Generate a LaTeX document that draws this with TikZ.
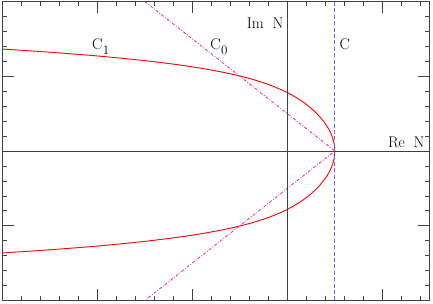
\documentclass[tikz,border=0pt]{standalone}
\begin{document}
\begin{tikzpicture}[x=95pt,y=74.75pt,
  framestyle/.style={black!75,line width=0.7pt},
  tickstyle/.style={black!75,line width=0.6pt},
  curvestyle/.style={red,line width=0.9pt},
  rayline/.style={magenta!85,line width=0.8pt,dash pattern=on 3pt off 1.6pt on 0.8pt off 1.6pt},
  mellin/.style={blue!60,line width=1pt,dash pattern=on 4pt off 2.4pt},
  lab/.style={inner sep=0pt,font=\fontsize{15.5}{18}\selectfont}]
\useasboundingbox (-287.3pt,-153pt) rectangle (145.7pt,151pt);
% curves, clipped to the frame
\begin{scope}
  \clip (-3,-2) rectangle (1.5,2);
  \draw[curvestyle] plot[domain=-1.4:1.4,samples=241,variable=\t]
    ({0.5-0.75*\t*\t-0.24*\t*\t*\t*\t*\t*\t*abs(\t)},{\t});
  \coordinate (v) at (0.5,0);
  \coordinate (ru) at (-1.5,2);
  \coordinate (rd) at (-1.5,-2);
  \draw[rayline] (ru) -- (v) -- (rd);
  \coordinate (ct) at (0.5,2);
  \coordinate (cb) at (0.5,-2);
  \draw[mellin] (cb) -- (ct);
\end{scope}
% axes
\coordinate (xl) at (-3,0);
\coordinate (xr) at (1.5,0);
\coordinate (yb) at (0,-2);
\coordinate (yt) at (0,2);
\draw[framestyle] (xl) -- (xr);
\draw[framestyle] (yb) -- (yt);
% frame
\draw[framestyle] (-3,-2) rectangle (1.5,2);
% ticks
\foreach \i in {-14,...,7} {
  \draw[tickstyle] ({\i*0.2},-2) -- ++(0,4.5pt);
  \draw[tickstyle] ({\i*0.2},2) -- ++(0,-4.5pt);
}
\foreach \i in {-2,-1,1} {
  \draw[tickstyle] (\i,-2) -- ++(0,11.5pt);
  \draw[tickstyle] (\i,2) -- ++(0,-11.5pt);
}
\foreach \j in {-9,...,9} {
  \draw[tickstyle] (-3,{\j*0.2}) -- ++(4.5pt,0);
  \draw[tickstyle] (1.5,{\j*0.2}) -- ++(-4.5pt,0);
}
\foreach \j in {-1,1} {
  \draw[tickstyle] (-3,\j) -- ++(11.5pt,0);
  \draw[tickstyle] (1.5,\j) -- ++(-11.5pt,0);
}
% labels
\node[lab,anchor=base west] (c1) at (-2.057,1.355) {C\kern0.5pt\raisebox{-4.3pt}{\fontsize{13}{15}\selectfont 1}};
\node[lab,anchor=base west] (c0) at (-0.812,1.355) {C\kern0.5pt\raisebox{-4.3pt}{\fontsize{13}{15}\selectfont 0}};
\node[lab,anchor=base west] (c) at (0.548,1.355) {C};
\node[lab,anchor=base east] (im) at (-0.039,1.641) {Im\hspace{8.7pt}N};
\node[lab,anchor=base east] (re) at (1.445,0.05) {Re\hspace{8.7pt}N};
\end{tikzpicture}
\end{document}
